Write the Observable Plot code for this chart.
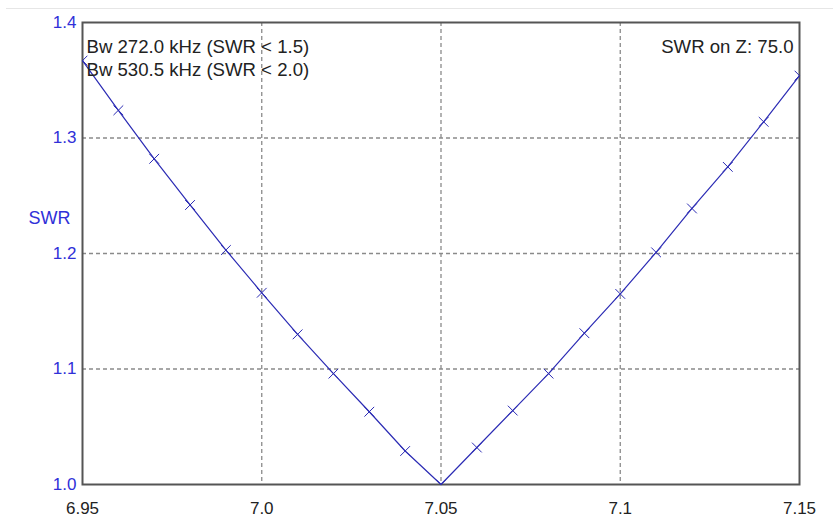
<!DOCTYPE html>
<html>
<head>
<meta charset="utf-8">
<script src="https://cdn.jsdelivr.net/npm/d3@7"></script>
<script src="https://cdn.jsdelivr.net/npm/@observablehq/plot@0.6"></script>
<style>
  html, body { margin: 0; padding: 0; background: #fff; }
  #wrap { position: relative; width: 833px; height: 518px; }
  #sep { position: absolute; left: 6px; right: 0; top: 8px; height: 1px; background: #e6e6e6; }
  #chart { position: absolute; left: 0; top: 0; }
</style>
</head>
<body>
<div id="wrap"><div id="sep"></div><div id="chart"></div></div>
<script>
// Frequency (MHz) and SWR values
const freq = [6.95, 6.96, 6.97, 6.98, 6.99, 7.00, 7.01, 7.02, 7.03, 7.04, 7.05,
              7.06, 7.07, 7.08, 7.09, 7.10, 7.11, 7.12, 7.13, 7.14, 7.15];
const swr  = [1.367, 1.324, 1.282, 1.242, 1.203, 1.166, 1.130, 1.096, 1.063, 1.029, 1.000,
              1.032, 1.064, 1.096, 1.131, 1.165, 1.201, 1.239, 1.275, 1.314, 1.354];
const xTicks = [6.95, 7.0, 7.05, 7.1, 7.15];
const xTickLabels = ["6.95", "7.0", "7.05", "7.1", "7.15"];
const yTicks = [1.0, 1.1, 1.2, 1.3, 1.4];
const yTickLabels = ["1.0", "1.1", "1.2", "1.3", "1.4"];
const xGrid = [7.0, 7.05, 7.1];
const yGrid = [1.1, 1.2, 1.3];
const yLabel = "SWR";
const noteLeft = ["Bw 272.0 kHz (SWR < 1.5)", "Bw 530.5 kHz (SWR < 2.0)"];
const noteRight = "SWR on Z: 75.0";

const data = freq.map((f, i) => ({f, s: swr[i]}));
const lineColor = "#2b2bb4";
const blue = "#3030d8";
const font = "Liberation Sans, Arial, sans-serif";

const chart = Plot.plot({
  width: 833,
  height: 518,
  marginLeft: 82,
  marginRight: 34,
  marginTop: 22,
  marginBottom: 34,
  style: {fontFamily: font, background: "transparent", overflow: "visible"},
  x: {domain: [6.95, 7.15]},
  y: {domain: [1.0, 1.4]},
  marks: [
    Plot.ruleX(xGrid, {stroke: "#8a8a8a", strokeWidth: 1.3, strokeDasharray: "4,3"}),
    Plot.ruleY(yGrid, {stroke: "#8a8a8a", strokeWidth: 1.3, strokeDasharray: "4,3"}),
    Plot.frame({stroke: "#555", strokeWidth: 2}),
    Plot.line(data, {x: "f", y: "s", stroke: lineColor, strokeWidth: 1.2}),
    Plot.dot(data, {x: "f", y: "s", symbol: "times", r: 4.5, stroke: lineColor, strokeWidth: 1, clip: true}),
    Plot.axisX(xTicks, {tickSize: 0, tickPadding: 17, fontSize: 17, fill: "#222",
      tickFormat: (d) => xTickLabels[xTicks.indexOf(d)], label: null}),
    Plot.axisY(yTicks, {tickSize: 0, tickPadding: 6, fontSize: 17, fill: blue,
      tickFormat: (d) => yTickLabels[yTicks.indexOf(d)], label: null}),
    Plot.text([yLabel], {frameAnchor: "left", textAnchor: "end", dx: -12, dy: -35,
      fontSize: 18, fill: blue}),
    Plot.text([noteLeft[0]], {frameAnchor: "top-left", textAnchor: "start", lineAnchor: "middle",
      dx: 4, dy: 25, fontSize: 18.6, fill: "#222"}),
    Plot.text([noteLeft[1]], {frameAnchor: "top-left", textAnchor: "start", lineAnchor: "middle",
      dx: 4, dy: 48, fontSize: 18.6, fill: "#222"}),
    Plot.text([noteRight], {frameAnchor: "top-right", textAnchor: "end", lineAnchor: "middle",
      dx: -6, dy: 25, fontSize: 18.6, fill: "#222"})
  ]
});
document.getElementById("chart").appendChild(chart);
</script>
</body>
</html>
